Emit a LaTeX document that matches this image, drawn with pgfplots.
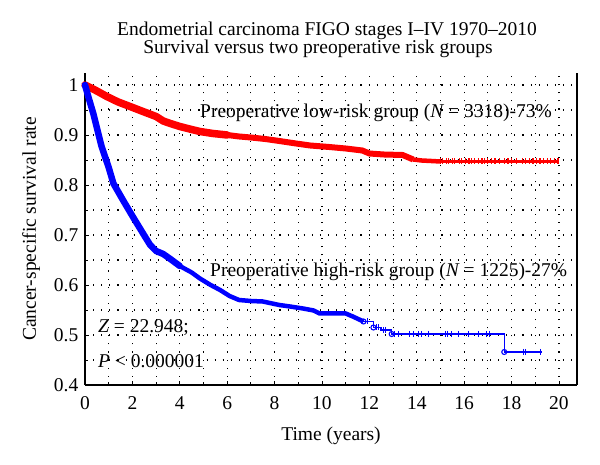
\documentclass[border=0pt]{standalone}
\usepackage{pgfplots}
\pgfplotsset{compat=1.18}
\usepackage{fontspec}
\setmainfont{Liberation Serif}
\begin{document}
\fontsize{19.5bp}{23bp}\selectfont
\begin{tikzpicture}[x=1bp,y=1bp]
\begin{axis}[
  at={(0,0)}, anchor=south west,
  scale only axis, width=492bp, height=312bp,
  xmin=0, xmax=20.76, ymin=0.4, ymax=1.024,
  axis x line*=bottom, axis y line*=left,
  axis line style={line width=1.2bp,-},
  xtick={0,2,...,20}, minor x tick num=1,
  ytick={0.4,0.5,...,1.0}, minor y tick num=1,
  tick align=inside, major tick length=4bp, minor tick length=3bp,
  tick style={black, line width=0.9bp},
  grid=both,
  grid style={black, line width=1.1bp, dash pattern=on 1.1bp off 7bp},
  minor grid style={black, line width=1.1bp, dash pattern=on 1.1bp off 7bp},
  /pgf/number format/assume math mode=true,
  yticklabel style={/pgf/number format/fixed, /pgf/number format/precision=1, font=\fontsize{19.5bp}{23bp}\selectfont},
  xticklabel style={font=\fontsize{19.5bp}{23bp}\selectfont, yshift=-5bp},
  xlabel={Time (years)},
  xlabel style={at={(axis description cs:0.5,0)}, anchor=base, yshift=-55bp, font=\fontsize{19.5bp}{23bp}\selectfont},
  ylabel={Cancer-specific survival rate},
  ylabel style={at={(axis description cs:0,0.5)}, anchor=base, yshift=49bp, font=\fontsize{19.5bp}{23bp}\selectfont},
  clip=false,
]
% red: low-risk group
\addplot[red, line width=7.5bp, line join=round, line cap=round] coordinates {
(0,1.0) (0.5,0.988) (0.92,0.977) (1.4,0.966) (1.9,0.957) (2.5,0.946) (3.0,0.937)
(3.3,0.928) (3.6,0.923) (4.0,0.917) (4.5,0.911) (4.85,0.907) (5.4,0.903) (6.0,0.900)
};
\addplot[red, line width=6bp, line join=round] coordinates {
(6.0,0.900) (6.5,0.897) (7.0,0.895) (7.6,0.892) (8.2,0.888) (8.9,0.883) (9.5,0.879)
(10.3,0.876) (11.0,0.873) (11.7,0.869) (12.0,0.863) (12.6,0.861) (13.4,0.860) (13.85,0.851)
};
\addplot[red, line width=4.5bp] coordinates {
(13.85,0.851) (14.2,0.849) (15.0,0.847)
};
\addplot[red, line width=2.2bp, mark=|, mark size=3bp, mark options={line width=1.2bp}] coordinates {
(15.0,0.847) (15.1,0.847) (15.25,0.847) (15.35,0.847) (15.5,0.847) (15.6,0.847) (15.8,0.847)
(15.9,0.847) (16.05,0.847) (16.2,0.847) (16.3,0.847) (16.45,0.847) (16.6,0.847) (16.75,0.847)
(16.85,0.847) (17.0,0.847) (17.15,0.847) (17.3,0.847) (17.5,0.847) (17.7,0.847) (17.85,0.847)
(18.0,0.847) (18.2,0.847) (18.45,0.847) (18.6,0.847) (18.75,0.847) (18.9,0.847) (19.05,0.847)
(19.2,0.847) (19.35,0.847) (19.5,0.847) (19.65,0.847) (19.8,0.847) (19.96,0.847)
};
% blue: high-risk group
\addplot[blue, line width=6.5bp, line join=round, line cap=round] coordinates {
(0,1.0) (0.15,0.975) (0.35,0.943) (0.7,0.877) (1.0,0.835) (1.2,0.803) (1.6,0.770)
(2.0,0.738) (2.45,0.703) (2.75,0.680) (3.0,0.668) (3.3,0.662) (3.6,0.652) (4.0,0.638)
};
\addplot[blue, line width=4.5bp, line join=round] coordinates {
(4.0,0.638) (4.5,0.625) (4.85,0.613) (5.3,0.600) (5.7,0.590) (6.1,0.578) (6.5,0.570)
(7.0,0.568) (7.5,0.567) (8.2,0.560) (8.65,0.557) (9.2,0.553) (9.65,0.549) (9.9,0.543)
(10.5,0.543) (11.0,0.543) (11.3,0.537) (11.75,0.527)
};
\addplot[blue, line width=1.5bp, const plot] coordinates {
(11.75,0.527) (12.17,0.515) (12.5,0.510) (12.94,0.502) (17.69,0.466) (19.27,0.466)
};
\addplot[blue, only marks, mark=o, mark size=2.5bp, mark options={line width=1.1bp}] coordinates {
(11.75,0.527) (12.17,0.515) (12.94,0.502) (17.69,0.466)
};
\addplot[blue, only marks, mark=|, mark size=3bp, mark options={line width=1bp}] coordinates {
(11.9,0.527) (12.3,0.515) (12.4,0.515) (12.6,0.510) (12.7,0.510)
(13.08,0.502) (13.22,0.502) (13.71,0.502) (13.85,0.502) (14.06,0.502) (14.21,0.502) (14.49,0.502)
(15.19,0.502) (15.29,0.502) (15.47,0.502) (15.75,0.502) (16.17,0.502) (16.6,0.502) (16.95,0.502) (17.05,0.502)
(18.49,0.466) (18.6,0.466) (19.2,0.466)
};
\draw[line width=1.2bp] (rel axis cs:1,0) -- (rel axis cs:1,1);
\end{axis}
\node[anchor=base] at (242,349) {Endometrial carcinoma FIGO stages I–IV 1970–2010};
\node[anchor=base] at (233,331) {Survival versus two preoperative risk groups};
\node[anchor=base west, inner sep=0pt] at (115,267) {Preoperative low-risk group ({\itshape N} = 3318)-73\%};
\node[anchor=base west, inner sep=0pt] at (125,108) {Preoperative high-risk group ({\itshape N} = 1225)-27\%};
\node[anchor=base west, inner sep=0pt] at (13,52) {{\itshape Z} = 22.948;};
\node[anchor=base west, inner sep=0pt] at (13,17) {{\itshape P} < 0.000001};
\pgfresetboundingbox
\path (-85,-80) rectangle (515,385);
\end{tikzpicture}
\end{document}
